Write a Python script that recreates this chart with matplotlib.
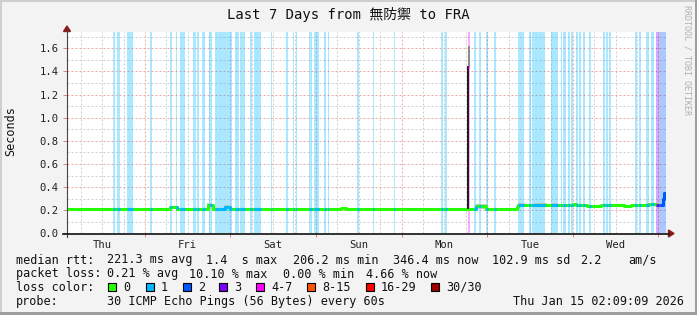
import matplotlib
matplotlib.use('Agg')
import numpy as np
import matplotlib.pyplot as plt
from matplotlib.patches import Rectangle, Polygon
from matplotlib.lines import Line2D

plt.rcParams['font.family'] = ['DejaVu Sans Mono', 'Noto Sans CJK JP']
plt.rcParams['lines.scale_dashes'] = False

# time axis: hours since graph start (Thu Jan 8 02:09:09 2026), 7 days
first_midnight = 21.85
days = ['Thu', 'Fri', 'Sat', 'Sun', 'Mon', 'Tue', 'Wed']

# median rtt (seconds), step breakpoints
med_t = [0.0, 28.8, 30.8, 39.5, 40.9, 44.2, 45.6, 76.9, 78.3, 114.7, 117.6,
         126.1, 126.6, 142.0, 142.7, 145.9, 149.8, 156.2, 158.2, 163.2,
         165.2, 167.1, 167.3, 168.0]
med_v = [0.209, 0.230, 0.209, 0.245, 0.206, 0.230, 0.209, 0.221, 0.209,
         0.234, 0.209, 0.230, 0.245, 0.253, 0.245, 0.236, 0.245, 0.238,
         0.245, 0.250, 0.245, 0.300, 0.346, 0.346]

# light smoke (spread of pings) where it shows above the median
smoke_start = [39.3, 44.0, 114.6, 126.4, 131.0, 135.8, 162.4]
smoke_end = [40.8, 45.5, 117.4, 128.4, 134.6, 137.8, 165.2]
smoke_top = [0.258, 0.243, 0.256, 0.262, 0.262, 0.258, 0.262]

# periods with packet loss: start, end (hours), loss class
loss_start = [12.9, 13.9, 16.8, 23.2, 28.8, 30.5, 31.6, 35.3, 36.5, 37.8,
              39.8, 41.4, 47.0, 48.4, 51.4, 52.4, 57.3, 61.5, 63.4, 64.3,
              68.0, 69.4, 72.0, 73.1, 81.4, 85.7, 91.8, 105.0, 106.1,
              112.6, 114.2, 115.6, 117.6, 119.8, 126.6, 129.6, 130.5, 135.8,
              138.6, 139.2, 140.4, 141.3, 142.7, 143.5, 144.8, 146.3, 150.4,
              151.2, 152.0, 159.3, 160.4, 162.4, 163.8, 165.2, 166.0]
loss_end = [13.5, 14.8, 18.5, 23.8, 29.5, 30.9, 33.0, 36.3, 37.0, 38.6,
            40.6, 46.3, 48.2, 49.8, 52.0, 54.5, 57.6, 62.1, 63.8, 64.6,
            68.6, 70.6, 72.6, 73.6, 82.0, 86.2, 92.1, 105.4, 106.5,
            112.9, 114.8, 116.2, 118.0, 120.4, 128.2, 130.2, 134.1, 137.8,
            138.9, 139.9, 141.0, 141.8, 143.2, 144.2, 145.3, 146.9, 150.9,
            151.8, 152.6, 159.8, 161.0, 163.1, 164.6, 166.0, 168.0]
loss_cls = [1] * 29 + [4] + [1] * 23 + [3, 2]

# Monday outlier (smoke)
spike_t = [112.15, 112.85]
spike_dark = [0.21, 1.45]
spike_light_t = [112.5, 112.9]
spike_light = [1.45, 1.62]
spike_median = 1.435

loss_colors = ['#26ff00', '#00b8ff', '#0059ff', '#7e00ff', '#ff00ff',
               '#ff5500', '#ff0000', '#a00000']
loss_labels = ['0', '1', '2', '3', '4-7', '8-15', '16-29', '30/30']

W, H = 697, 315
fig = plt.figure(figsize=(W / 100, H / 100), dpi=100, facecolor='#f3f3f3')


def fx(x):
    return x / W


def fy(y):
    return 1 - y / H


ax = fig.add_axes([fx(67), fy(233.3), fx(666) - fx(67), fy(32.3) - fy(233.3)])
ax.set_xlim(0, 168)
ax.set_ylim(0, 1.739)
ax.set_facecolor('white')
for s in ax.spines.values():
    s.set_visible(False)

# dotted grid
dots = (0, (1.44, 1.44))
midnights = np.arange(first_midnight, 168, 24)
for h in np.arange(first_midnight % 6, 168, 6):
    major = np.isclose(midnights, h).any()
    ax.axvline(h, color='#eea8a8' if major else '#cfcfcf', lw=0.72,
               ls=dots, zorder=0.5)
for i, v in enumerate(np.arange(0.1, 1.74, 0.1)):
    ax.axhline(v, color='#eea8a8' if i % 2 == 1 else '#cfcfcf', lw=0.72,
               ls=dots, zorder=0.5)

# loss background
for s, e, c in zip(loss_start, loss_end, loss_cls):
    ax.axvspan(s, e, color=loss_colors[c], alpha=0.33, lw=0, zorder=1)

# smoke
mt = np.array(med_t)
mv = np.array(med_v)
for s, e, top in zip(smoke_start, smoke_end, smoke_top):
    base = mv[np.searchsorted(mt, s, side='right') - 1]
    ax.fill_between([s, e], base, top, color='#c6c6c6', lw=0, zorder=2)

# median line, coloured by loss
ax.step(mt, mv, where='post', color=loss_colors[0], lw=2.2, zorder=3,
        solid_capstyle='butt')
for s, e, c in zip(loss_start, loss_end, loss_cls):
    if c == 4:
        continue
    inner = (mt > s) & (mt < e)
    v0 = mv[np.searchsorted(mt, s, side='right') - 1]
    ts = np.concatenate([[s], mt[inner], [e]])
    vlast = mv[inner][-1] if inner.any() else v0
    vs = np.concatenate([[v0], mv[inner], [vlast]])
    ax.step(ts, vs, where='post', color=loss_colors[c], lw=2.2, zorder=3.1,
            solid_capstyle='butt')

# spike
ax.fill_between(spike_t, spike_dark[0], spike_dark[1], color='#1e1e1e',
                lw=0, zorder=4)
ax.fill_between(spike_light_t, spike_light[0], spike_light[1],
                color='#8a8a8a', lw=0, zorder=4)
ax.plot([112.55, 112.85], [spike_median] * 2, color=loss_colors[4], lw=2,
        zorder=5, solid_capstyle='butt')

# ticks
ax.set_xticks(midnights)
ax.set_xticklabels([])
ax.tick_params(axis='x', which='major', length=3, color='#e08080', width=0.7)
ax.set_xticks(first_midnight - 12 + 24 * np.arange(7), minor=True)
ax.set_xticklabels(days, minor=True)
ax.tick_params(axis='x', which='minor', length=0, pad=4.5, labelsize=7.6,
               labelcolor='#222222')
yt = np.arange(0, 1.61, 0.2)
ax.set_yticks(yt)
ax.set_yticklabels(['%.1f' % v for v in yt])
ax.tick_params(axis='y', length=3, color='#e08080', width=0.7, pad=3.2,
               labelsize=7.6, labelcolor='#222222')

# axes lines and arrows
fig.add_artist(Line2D([fx(67), fx(67)], [fy(237), fy(30)], color='#444444',
                      lw=0.8))
fig.add_artist(Line2D([fx(63), fx(669)], [fy(233.6), fy(233.6)],
                      color='#111111', lw=1.2))
fig.add_artist(Polygon([[fx(67), fy(26)], [fx(63.5), fy(31.5)],
                        [fx(70.5), fy(31.5)]], closed=True, color='#8b1a1a'))
fig.add_artist(Polygon([[fx(674), fy(233.5)], [fx(668.5), fy(230)],
                        [fx(668.5), fy(237)]], closed=True, color='#8b1a1a'))

# frame
fig.add_artist(Rectangle((0, fy(2)), 1, fy(0) - fy(2), color='#cfcfcf', lw=0))
fig.add_artist(Rectangle((0, 0), fx(2), 1, color='#cfcfcf', lw=0))
fig.add_artist(Rectangle((0, 0), 1, fy(312), color='#9e9e9e', lw=0))
fig.add_artist(Rectangle((fx(695), 0), fx(2), 1, color='#9e9e9e', lw=0))

# titles
fig.text(fx(348), fy(19), 'Last 7 Days from 無防禦 to FRA', ha='center',
         va='baseline', fontsize=10, color='#111111')
fig.text(fx(10.5), fy(131), 'Seconds', rotation=90, ha='center', va='center',
         fontsize=8.5, color='#111111')
fig.text(fx(687.5), fy(5), 'RRDTOOL / TOBI OETIKER', rotation=270,
         ha='center', va='top', fontsize=6.0, color='#b0b0b0')

# legend
leg = [
    (263.5, [(16, 'median rtt:'), (107, '221.3 ms avg'), (206, '1.4  s max'),
             (293, '206.2 ms min'), (393, '346.4 ms now'),
             (492, '102.9 ms sd'), (580, '2.2'), (628, 'am/s')]),
    (277.5, [(16, 'packet loss:'), (107, '0.21 % avg'), (189, '10.10 % max'),
             (283, '0.00 % min'), (366, '4.66 % now')]),
    (291.0, [(16, 'loss color:')]),
    (305.0, [(16, 'probe:'),
             (107, '30 ICMP Echo Pings (56 Bytes) every 60s'),
             (513, 'Thu Jan 15 02:09:09 2026')]),
]
for y, items in leg:
    for x, s in items:
        fig.text(fx(x), fy(y), s, ha='left', va='baseline', fontsize=8.5,
                 color='#111111')

sw_x = [108, 145.7, 182.7, 219.3, 256, 307.3, 365.7, 430.7]
for x, c, lab in zip(sw_x, loss_colors, loss_labels):
    fig.add_artist(Rectangle((fx(x), fy(291)), fx(8), fy(283) - fy(291),
                             facecolor=c, edgecolor='black', lw=0.8))
    fig.text(fx(x + 15), fy(291), lab, ha='left', va='baseline',
             fontsize=8.5, color='#111111')

fig.savefig('out.png', dpi=100, facecolor=fig.get_facecolor())
